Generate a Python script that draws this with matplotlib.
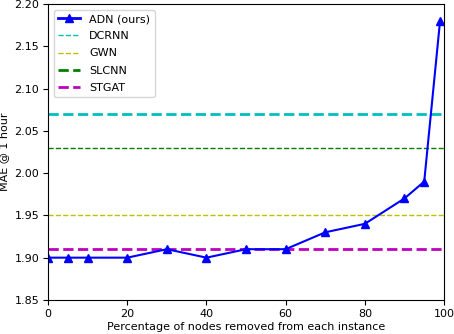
import matplotlib
matplotlib.use("Agg")
import matplotlib.pyplot as plt
from matplotlib.lines import Line2D

# percentage of nodes removed vs. MAE @ 1 hour
pct_removed = [0, 5, 10, 20, 30, 40, 50, 60, 70, 80, 90, 95, 99]
adn_mae = [1.90, 1.90, 1.90, 1.90, 1.91, 1.90, 1.91, 1.91, 1.93, 1.94, 1.97, 1.99, 2.18]

baseline_names = ["DCRNN", "GWN", "SLCNN", "STGAT"]
baseline_mae = [2.07, 1.95, 2.03, 1.91]
baseline_colors = ["c", "y", "g", "m"]

fig, ax = plt.subplots(figsize=(4.54, 3.34), dpi=100)

# baselines as horizontal dashed lines
line_w = {"DCRNN": 2.0, "GWN": 1.0, "SLCNN": 1.0, "STGAT": 2.0}
for name, val, col in zip(baseline_names, baseline_mae, baseline_colors):
    ax.axhline(val, color=col, linestyle="--", linewidth=line_w[name])

ax.plot(pct_removed, adn_mae, color="blue", marker="^", markersize=6,
        linewidth=1.5)

# legend handles drawn as they appear in the original figure
legend_w = [1.0, 1.0, 2.0, 2.0]
handles = [Line2D([], [], color="blue", marker="^", markersize=6, linewidth=2)]
for col, w in zip(baseline_colors, legend_w):
    handles.append(Line2D([], [], color=col, linestyle="--", linewidth=w))
ax.legend(handles, ["ADN (ours)"] + baseline_names, loc="upper left",
          fontsize=8, labelspacing=0.65)

ax.set_xlim(0, 100)
ax.set_ylim(1.85, 2.20)
ax.set_xticks([0, 20, 40, 60, 80, 100])
ax.set_yticks([1.85, 1.90, 1.95, 2.00, 2.05, 2.10, 2.15, 2.20])
ax.tick_params(labelsize=8, pad=3)
ax.set_xlabel("Percentage of nodes removed from each instance", fontsize=8,
              labelpad=2)
ax.set_ylabel("MAE @ 1 hour", fontsize=8)

fig.subplots_adjust(left=0.106, right=0.978, top=0.988, bottom=0.102)
fig.savefig("out.png", dpi=100)
